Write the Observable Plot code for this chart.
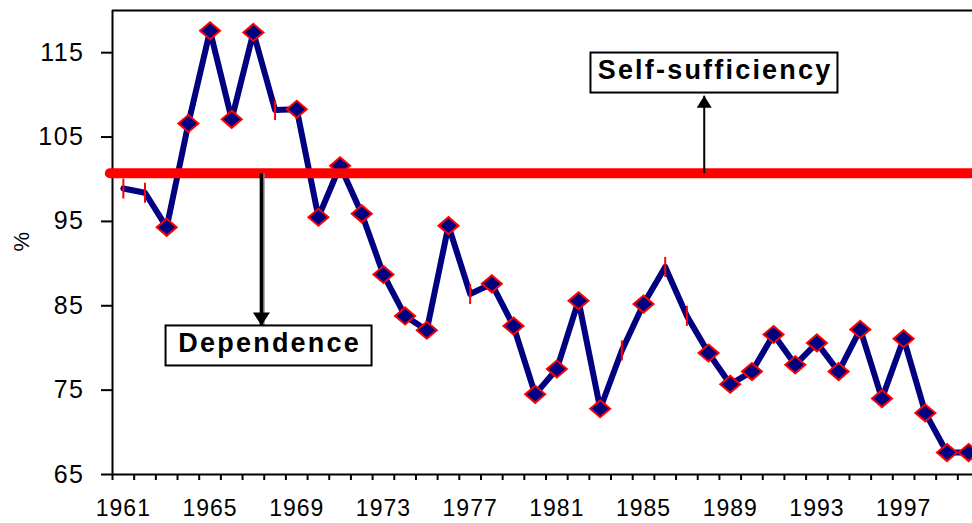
<!DOCTYPE html>
<html>
<head>
<meta charset="utf-8">
<script src="https://cdn.jsdelivr.net/npm/d3@7"></script>
<script src="https://cdn.jsdelivr.net/npm/@observablehq/plot@0.6"></script>
<style>
html, body { margin: 0; padding: 0; background: #fff; }
#chart { width: 972px; height: 523px; overflow: hidden; }
</style>
</head>
<body>
<div id="chart"></div>
<script>
// ---- data ----
const years = [1961,1962,1963,1964,1965,1966,1967,1968,1969,1970,
               1971,1972,1973,1974,1975,1976,1977,1978,1979,1980,
               1981,1982,1983,1984,1985,1986,1987,1988,1989,1990,
               1991,1992,1993,1994,1995,1996,1997,1998,1999,2000];
const ratio = [98.9, 98.4, 94.3, 106.6, 117.6, 107.1, 117.4, 108.2, 108.3, 95.5,
               101.6, 95.9, 88.7, 83.8, 82.1, 94.5, 86.4, 87.6, 82.6, 74.5,
               77.5, 85.6, 72.8, 79.7, 85.2, 89.6, 83.8, 79.4, 75.7, 77.2,
               81.6, 78.0, 80.6, 77.2, 82.2, 74.0, 81.1, 72.3, 67.6, 67.6];
const noMarkerYears = [1961, 1962, 1968, 1977, 1984, 1986, 1987];
const yTicks = [65, 75, 85, 95, 105, 115];
const xLabelYears = [1961, 1965, 1969, 1973, 1977, 1981, 1985, 1989, 1993, 1997];
const xDomain = [1960.5, 2000.5];
const yDomain = [65, 120];
const selfSufficiency = 100.7;
const selfLineStart = [1960.4];
const labels = ["Self-sufficiency", "Dependence"];
const labelX = [1988.3, 1967.75];
const labelY = [112.9, 80.55];
const arrowX = [1987.8, 1967.37];
const arrowTo = [109.9, 82.65];

const series = years.map((year, i) => ({year, value: ratio[i]}));
const marked = series.filter(d => !noMarkerYears.includes(d.year));
const unmarked = series.filter(d => noMarkerYears.includes(d.year));
const xBoundaries = d3.range(xDomain[0], xDomain[1] + 0.01, 1);
const labelData = labels.map((t, i) => ({t, x: labelX[i], y: labelY[i]}));
const arrows = arrowX.map((x, i) => ({x, y1: selfSufficiency, y2: arrowTo[i]}));

// ---- styles ----
const boxWidth = {"Self-sufficiency": 247, "Dependence": 206};
const fontFamily = "'Liberation Sans', Arial, sans-serif";

// ---- symbols ----
const diamond = {draw(ctx, size) {
  const r = Math.sqrt(size / Math.PI);
  ctx.moveTo(0, -r * 0.85); ctx.lineTo(r, 0); ctx.lineTo(0, r * 0.85); ctx.lineTo(-r, 0); ctx.closePath();
}};
const vbar = {draw(ctx, size) {
  const r = Math.sqrt(size / Math.PI);
  ctx.moveTo(0, -r); ctx.lineTo(0, r);
}};
const headUp = {draw(ctx) { ctx.moveTo(0, 0); ctx.lineTo(7.5, 12); ctx.lineTo(-7.5, 12); ctx.closePath(); }};
const headDown = {draw(ctx) { ctx.moveTo(0, 0); ctx.lineTo(8.5, -13); ctx.lineTo(-8.5, -13); ctx.closePath(); }};

const chart = Plot.plot({
  width: 972,
  height: 523,
  marginLeft: 112,
  marginRight: 0,
  marginTop: 10,
  marginBottom: 49,
  style: {fontFamily, background: "white", color: "black"},
  x: {domain: xDomain, range: [112, 979]},
  y: {domain: yDomain},
  marks: [
    // frame
    Plot.ruleY([yDomain[1]], {stroke: "black", strokeWidth: 2}),
    Plot.ruleY([yDomain[0]], {stroke: "black", strokeWidth: 2}),
    Plot.ruleX([xDomain[0]], {stroke: "black", strokeWidth: 2}),
    // axis tick marks
    Plot.axisY(yTicks, {tickSize: 11, strokeWidth: 2, stroke: "black", tickFormat: () => "", label: null}),
    Plot.axisX(xBoundaries, {tickSize: 6, strokeWidth: 2, stroke: "black", tickFormat: () => "", label: null}),
    // axis tick labels
    Plot.text(yTicks, {y: d => d, text: d => String(d), frameAnchor: "left", dx: -28, textAnchor: "end", fontSize: 25, fill: "black"}),
    Plot.text(xLabelYears, {x: d => d, text: d => String(d), frameAnchor: "bottom", lineAnchor: "middle", dy: 34, fontSize: 23, fill: "black"}),
    Plot.text(["%"], {frameAnchor: "left", lineAnchor: "middle", dx: -91, dy: 9, rotate: -90, fontSize: 22, fill: "black"}),
    // series
    Plot.line(series, {x: "year", y: "value", stroke: "#000080", strokeWidth: 6}),
    Plot.dot(marked, {x: "year", y: "value", symbol: diamond, r: 10, fill: "#000080", stroke: "red", strokeWidth: 2}),
    Plot.dot(unmarked, {x: "year", y: "value", symbol: vbar, r: 10, fill: "none", stroke: "red", strokeWidth: 2}),
    // self-sufficiency line
    Plot.ruleY([selfSufficiency], {x1: selfLineStart[0], x2: xDomain[1], stroke: "red", strokeWidth: 10, strokeLinecap: "round"}),
    // arrows
    Plot.link([arrows[0]], {x1: "x", x2: "x", y1: "y1", y2: "y2", stroke: "black", strokeWidth: 2}),
    Plot.dot([arrows[0]], {x: "x", y: "y2", symbol: headUp, fill: "black", stroke: "none"}),
    Plot.link([arrows[1]], {x1: "x", x2: "x", y1: "y1", y2: "y2", stroke: "#888", strokeWidth: 3.5, dx: 1.5}),
    Plot.link([arrows[1]], {x1: "x", x2: "x", y1: "y1", y2: "y2", stroke: "black", strokeWidth: 3.5}),
    Plot.dot([arrows[1]], {x: "x", y: "y2", symbol: headDown, fill: "black", stroke: "none"}),
    // labels
    Plot.text(labelData, {x: "x", y: "y", text: "t", fontSize: 27, fontWeight: "bold", fill: "black"})
  ]
});

document.getElementById("chart").appendChild(chart);

// letter spacing of tick labels and boxes around annotation labels
const ns = "http://www.w3.org/2000/svg";
const yTickStr = yTicks.map(String);
const xTickStr = xLabelYears.map(String);
chart.querySelectorAll("text").forEach(t => {
  const s = t.textContent;
  if (yTickStr.includes(s)) t.style.letterSpacing = "1.5px";
  else if (xTickStr.includes(s)) t.style.letterSpacing = "1px";
});
chart.querySelectorAll("text").forEach(t => {
  if (!labels.includes(t.textContent)) return;
  t.style.letterSpacing = "2.2px";
  const bb = t.getBBox();
  const cx = bb.x + (bb.width - 2.2) / 2;
  const cy = bb.y + bb.height / 2 + 2.5;
  const w = boxWidth[t.textContent];
  const rect = document.createElementNS(ns, "rect");
  const tr = t.getAttribute("transform");
  if (tr) rect.setAttribute("transform", tr);
  rect.setAttribute("x", cx - w / 2);
  rect.setAttribute("y", cy - 20);
  rect.setAttribute("width", w);
  rect.setAttribute("height", 40);
  rect.setAttribute("fill", "white");
  rect.setAttribute("stroke", "black");
  rect.setAttribute("stroke-width", 2);
  t.parentNode.insertBefore(rect, t);
});
</script>
</body>
</html>
